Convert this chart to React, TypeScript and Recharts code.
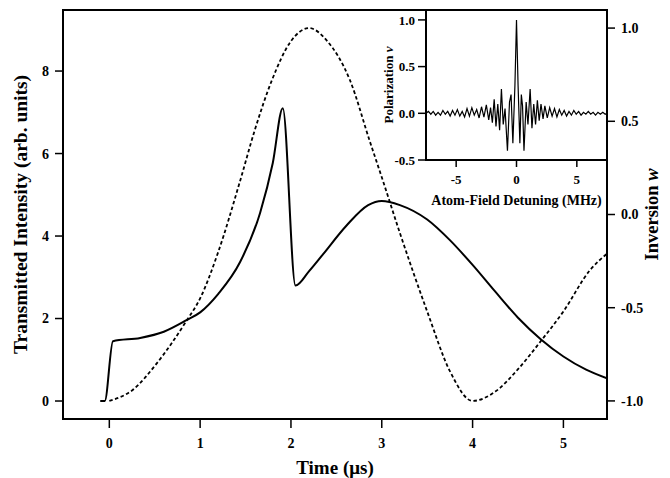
import { ComposedChart, LineChart, Line, XAxis, YAxis, ReferenceArea, Label } from "recharts"

// main panel: transmitted intensity (left axis) and inversion (right axis) vs time
const timeSolid = [-0.1, -0.05, 0.04, 0.34, 0.6, 0.85, 1.0, 1.2, 1.44, 1.66, 1.8, 1.91, 2.05, 2.2, 2.35, 2.61, 2.85, 3.0, 3.2, 3.5, 3.75, 4.0, 4.25, 4.5, 4.75, 5.0, 5.25, 5.48]
const intensity = [0, 0, 1.45, 1.53, 1.68, 1.96, 2.15, 2.6, 3.37, 4.56, 5.77, 7.1, 2.8, 3.15, 3.55, 4.25, 4.75, 4.85, 4.75, 4.4, 3.9, 3.3, 2.65, 2.02, 1.5, 1.08, 0.76, 0.55]

const timeDashed = [0, 0.26, 0.52, 0.85, 1.0, 1.2, 1.44, 1.6, 1.79, 2.0, 2.2, 2.4, 2.65, 2.87, 3.0, 3.2, 3.5, 3.75, 4.0, 4.25, 4.5, 4.75, 5.0, 5.29, 5.48]
const inversion = [-1.0, -0.94, -0.8, -0.57, -0.45, -0.2, 0.18, 0.45, 0.72, 0.93, 1.0, 0.93, 0.72, 0.39, 0.2, -0.1, -0.52, -0.84, -1.0, -0.95, -0.83, -0.68, -0.52, -0.3, -0.21]

const timeTicks = [0, 1, 2, 3, 4, 5]
const intensityTicks = [0, 2, 4, 6, 8]
const inversionTicks = [-1, -0.5, 0, 0.5, 1]

// inset: polarization v vs atom-field detuning
const detuning = [
  -7.5, -7.3, -7.1, -6.9, -6.7, -6.5, -6.3, -6.1, -5.9, -5.7, -5.5, -5.3, -5.1, -4.9, -4.7, -4.5, -4.3, -4.1,
  -3.9, -3.7, -3.5, -3.3, -3.1, -2.9, -2.7, -2.5, -2.3, -2.15, -2.0, -1.85, -1.7, -1.55, -1.4, -1.25, -1.1,
  -0.95, -0.75, -0.58, -0.45, -0.3, -0.13, 0, 0.13, 0.28, 0.4, 0.5, 0.62, 0.8, 0.95, 1.13, 1.28, 1.43, 1.58,
  1.73, 1.88, 2.03, 2.2, 2.35, 2.55, 2.75, 2.95, 3.15, 3.35, 3.55, 3.75, 3.95, 4.15, 4.35, 4.55, 4.75, 4.95,
  5.15, 5.35, 5.55, 5.75, 5.95, 6.15, 6.35, 6.55, 6.75, 6.95, 7.15, 7.35, 7.5,
]
const polarization = [
  0.0, 0.02, -0.01, 0.02, -0.02, 0.01, -0.02, 0.03, -0.01, 0.02, -0.03, 0.03, -0.02, 0.04, -0.03, 0.02, -0.04, 0.05,
  -0.03, 0.06, -0.02, 0.04, -0.05, 0.07, -0.04, 0.09, -0.07, 0.06, -0.1, 0.15, -0.14, 0.1, -0.18, 0.26, -0.12,
  0.05, -0.4, 0.12, 0.2, -0.32, 0.3, 1.0, 0.3, -0.32, 0.2, 0.08, -0.4, 0.12, -0.12, 0.26, -0.16, 0.1, -0.12,
  0.14, -0.08, 0.1, -0.06, 0.08, -0.05, 0.06, -0.03, 0.05, -0.04, 0.04, -0.02, 0.03, -0.03, 0.02, -0.02, 0.03, -0.01,
  0.02, -0.02, 0.01, -0.01, 0.02, -0.01, 0.01, -0.02, 0.01, -0.01, 0.01, -0.01, 0.0,
]
const detuningTicks = [-5, 0, 5]
const polarizationTicks = [-0.5, 0, 0.5, 1]

const solidData = timeSolid.map((t, i) => ({ t, v: intensity[i] }))
const dashedData = timeDashed.map((t, i) => ({ t, v: inversion[i] }))
const insetData = detuning.map((d, i) => ({ d, v: polarization[i] }))

const serif = "Liberation Serif"
const tickStyle = { fill: "#000", fontSize: 14, fontWeight: "bold", fontFamily: serif }
const smallTick = { fill: "#000", fontSize: 13, fontWeight: "bold", fontFamily: serif }
const axisLine = { stroke: "#000", strokeWidth: 2 }
const tickLine = { stroke: "#000", strokeWidth: 1.5 }

const X_DOM: [number, number] = [-0.51, 5.48]
const I_DOM: [number, number] = [-0.436, 9.48]
const W_DOM: [number, number] = [-1.097, 1.097]
const D_DOM: [number, number] = [-7.5, 7.5]
const P_DOM: [number, number] = [-0.5, 1.106]

function rotatedTitle(cx: number, cy: number, size: number, children: React.ReactNode) {
  return (
    <text
      x={cx}
      y={cy}
      transform={`rotate(-90 ${cx} ${cy})`}
      textAnchor="middle"
      dominantBaseline="central"
      fontFamily={serif}
      fontWeight="bold"
      fontSize={size}
      fill="#000"
    >
      {children}
    </text>
  )
}

export default function App() {
  return (
    <div style={{ position: "relative", width: 670, height: 478, background: "#fff" }}>
      <style>{"body{margin:0}"}</style>
      <ComposedChart width={670} height={478} margin={{ top: 10, right: 8, bottom: 0, left: 8 }}>
        <XAxis
          type="number"
          dataKey="t"
          domain={X_DOM}
          ticks={timeTicks}
          allowDataOverflow
          height={59}
          tickSize={9}
          tickMargin={10}
          tick={tickStyle}
          axisLine={axisLine}
          tickLine={tickLine}
        >
          <Label
            content={({ viewBox }: any) => (
              <text
                x={viewBox.x + viewBox.width / 2}
                y={viewBox.y + 48}
                textAnchor="middle"
                dominantBaseline="central"
                fontFamily={serif}
                fontWeight="bold"
                fontSize={19}
                fill="#000"
              >
                Time (μs)
              </text>
            )}
          />
        </XAxis>
        <YAxis
          yAxisId="I"
          domain={I_DOM}
          ticks={intensityTicks}
          allowDataOverflow
          width={55}
          tickSize={8}
          tickMargin={6}
          tick={tickStyle}
          axisLine={axisLine}
          tickLine={tickLine}
        >
          <Label
            content={({ viewBox }: any) =>
              rotatedTitle(viewBox.x + 12, viewBox.y + viewBox.height / 2, 19.5, "Transmitted Intensity (arb. units)")
            }
          />
        </YAxis>
        <YAxis
          yAxisId="w"
          orientation="right"
          domain={W_DOM}
          ticks={inversionTicks}
          allowDataOverflow
          width={55}
          tickSize={8}
          tickMargin={6}
          tick={tickStyle}
          tickFormatter={(v: number) => v.toFixed(1)}
          axisLine={axisLine}
          tickLine={tickLine}
        >
          <Label
            content={({ viewBox }: any) =>
              rotatedTitle(viewBox.x + 45, viewBox.y + viewBox.height / 2, 18.5, (
                <>
                  Inversion <tspan fontStyle="italic">w</tspan>
                </>
              ))
            }
          />
        </YAxis>
        <ReferenceArea
          yAxisId="I"
          x1={X_DOM[0]}
          x2={X_DOM[1]}
          y1={I_DOM[0]}
          y2={I_DOM[1]}
          fill="none"
          stroke="#000"
          strokeWidth={2}
        />
        <Line
          yAxisId="I"
          data={solidData}
          dataKey="v"
          type="monotone"
          stroke="#000"
          strokeWidth={2}
          dot={false}
          isAnimationActive={false}
        />
        <Line
          yAxisId="w"
          data={dashedData}
          dataKey="v"
          type="monotone"
          stroke="#000"
          strokeWidth={1.8}
          strokeDasharray="3.5 2.5"
          dot={false}
          isAnimationActive={false}
        />
      </ComposedChart>

      <div style={{ position: "absolute", left: 0, top: 0, pointerEvents: "none" }}>
        <LineChart width={670} height={478} data={insetData} margin={{ top: 10, right: 63, bottom: 268, left: 386 }}>
          <XAxis
            type="number"
            dataKey="d"
            domain={D_DOM}
            ticks={detuningTicks}
            allowDataOverflow
            height={50}
            tickSize={7}
            tickMargin={8}
            tick={smallTick}
            axisLine={axisLine}
            tickLine={tickLine}
          >
            <Label
              content={({ viewBox }: any) => (
                <text
                  x={viewBox.x + viewBox.width / 2}
                  y={viewBox.y + 40}
                  textAnchor="middle"
                  dominantBaseline="central"
                  fontFamily={serif}
                  fontWeight="bold"
                  fontSize={14}
                  fill="#000"
                >
                  Atom-Field Detuning (MHz)
                </text>
              )}
            />
          </XAxis>
          <YAxis
            domain={P_DOM}
            ticks={polarizationTicks}
            allowDataOverflow
            width={40}
            tickSize={8}
            tickMargin={3}
            tick={smallTick}
            tickFormatter={(v: number) => v.toFixed(1)}
            axisLine={axisLine}
            tickLine={tickLine}
          >
            <Label
              content={({ viewBox }: any) =>
                rotatedTitle(viewBox.x + 2, viewBox.y + viewBox.height / 2, 13, (
                  <>
                    Polarization <tspan fontStyle="italic">v</tspan>
                  </>
                ))
              }
            />
          </YAxis>
          <ReferenceArea
            x1={D_DOM[0]}
            x2={D_DOM[1]}
            y1={P_DOM[0]}
            y2={P_DOM[1]}
            fill="none"
            stroke="#000"
            strokeWidth={2}
          />
          <Line
            dataKey="v"
            type="linear"
            stroke="#000"
            strokeWidth={1.2}
            dot={false}
            isAnimationActive={false}
          />
        </LineChart>
      </div>
    </div>
  )
}
